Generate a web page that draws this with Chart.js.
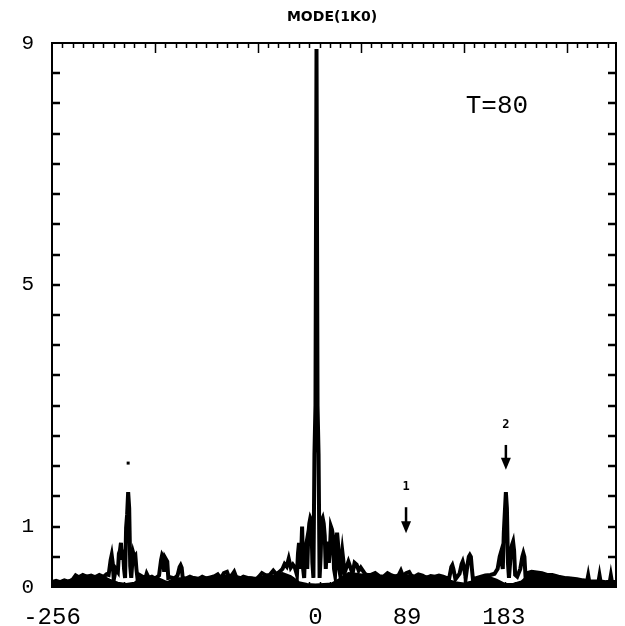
<!DOCTYPE html>
<html>
<head>
<meta charset="utf-8">
<script src="https://cdn.jsdelivr.net/npm/chart.js@4"></script>
<style>
  html, body { margin: 0; background: #fff; }
</style>
</head>
<body>
<canvas id="spec" width="625" height="626"></canvas>
<script>
// spectrum outline (x = mode index, y = amplitude)
const specX = [
  -256,-252,-248,-244,-240,-236,-233,-230,-226,-222,-218,-214,-210,-206,-203,
  -201,-199,-198,-197,-196,-194,-192,-191,-190,-189,-188,-187,-186,-185,-184,-183,-182,-181,-180,-179,-178,-177,-176,-175,-174,-173,-171,-168,-165,-164,-162,-159,-156,
  -152,-150,-149,-148,-147,-146,-145,-144,-143,-141,-137,-134,-132,-131,-130,-129,-126,
  -122,-118,-114,-110,-106,-102,-98,-95,-92,-89,-86,-84,-81,-79,-77,-73,-70,-66,-62,-58,-55,-52,-49,-45,-41,-38,-35,
  -32,-30,-28,-26,-24,-22,-20,-18,-17,-16,-15,-14,-13,-12,-11,-10,-9,-8,-7,-6,-5,-4,-3,-2,-1,0,1,2,3,4,5,6,7,8,9,10,
  11,12,13,14,15,16,17,18,19,20,21,22,23,24,25,26,27,28,30,32,34,36,38,40,42,44,46,48,50,
  54,58,62,66,70,74,78,81,83,85,88,91,93,96,100,104,108,112,116,120,124,127,
  130,132,133,134,136,140,142,143,144,146,148,149,150,151,152,153,157,161,165,170,174,177,179,180,181,182,183,184,185,186,187,188,190,191,192,193,194,196,199,201,202,203,204,206,
  210,215,220,225,230,236,242,248,254,260,264,265,266,270,275,276,277,282,286,287,288,292
];
const specY = [
  0.08,0.1,0.08,0.11,0.09,0.12,0.19,0.16,0.2,0.17,0.19,0.16,0.2,0.17,0.21,
  0.2,0.45,0.53,0.4,0.12,0.3,0.25,0.55,0.6,0.73,0.45,0.62,0.3,0.15,0.98,1.2,1.57,1.3,0.35,0.15,0.4,0.56,0.5,0.52,0.3,0.15,0.2,0.17,0.16,0.22,0.15,0.17,0.14,
  0.19,0.45,0.53,0.5,0.25,0.48,0.45,0.42,0.15,0.16,0.14,0.19,0.33,0.36,0.32,0.15,0.14,
  0.17,0.14,0.13,0.17,0.14,0.16,0.18,0.21,0.14,0.23,0.25,0.16,0.2,0.25,0.16,0.14,0.17,0.15,0.14,0.12,0.17,0.23,0.2,0.19,0.27,0.21,0.25,
  0.3,0.38,0.34,0.47,0.32,0.37,0.32,0.2,0.55,0.73,0.3,0.5,1.0,0.3,0.15,0.6,0.7,0.3,0.85,1.05,1.14,1.1,0.4,0.15,2.2,3.0,8.9,3.0,2.2,0.15,0.5,1.1,1.14,1.05,0.85,0.3,
  0.6,0.75,0.4,0.6,1.0,0.95,0.85,0.3,0.2,0.6,0.9,0.7,0.3,0.2,0.45,0.6,0.45,0.22,0.32,0.42,0.32,0.22,0.4,0.37,0.27,0.32,0.27,0.22,0.2,
  0.2,0.23,0.18,0.17,0.23,0.19,0.17,0.2,0.27,0.18,0.23,0.25,0.19,0.17,0.21,0.19,0.15,0.18,0.17,0.19,0.17,0.15,
  0.15,0.33,0.36,0.3,0.13,0.22,0.38,0.42,0.35,0.15,0.4,0.5,0.53,0.5,0.3,0.13,0.15,0.17,0.19,0.2,0.22,0.3,0.5,0.56,0.4,0.3,0.9,1.24,1.57,1.3,0.4,0.15,0.6,0.7,0.75,0.6,0.2,0.17,0.3,0.5,0.56,0.5,0.2,0.23,
  0.25,0.24,0.23,0.2,0.2,0.17,0.15,0.14,0.13,0.11,0.1,0.19,0.09,0.09,0.09,0.19,0.09,0.08,0.09,0.19,0.09,0.08
];

// dense black noise floor under the outline
const floorX = [
  -256,-248,-240,-232,-224,-216,-208,-200,-192,-184,-176,-168,-160,-152,-144,-136,-128,-120,-112,-104,-96,-88,-80,-72,-64,-56,-48,-40,-32,-24,-16,-8,
  0,8,16,24,32,40,48,56,64,72,80,88,96,104,112,120,128,136,144,152,160,168,176,184,192,200,208,216,224,232,240,248,256,264,272,280,288,292
];
const floorY = [
  0.08,0.09,0.1,0.17,0.19,0.18,0.19,0.12,0.07,0.05,0.07,0.17,0.16,0.14,0.08,0.15,0.14,0.17,0.15,0.16,0.18,0.19,0.19,0.16,0.16,0.15,0.19,0.2,0.23,0.18,0.08,0.05,
  0.04,0.05,0.06,0.14,0.23,0.22,0.2,0.19,0.17,0.19,0.19,0.2,0.17,0.18,0.17,0.17,0.12,0.08,0.06,0.09,0.15,0.17,0.12,0.05,0.05,0.09,0.21,0.22,0.2,0.19,0.16,0.15,0.12,0.1,0.09,0.08,0.08,0.08
];

const xTickValues = [-256, 0, 89, 183];
const yTickValues = [0, 1, 5, 9];

// arrows marking modes 1 and 2
const arrowX = [88, 185];
const arrowText = ['1', '2'];
const arrowFrom = [1.32, 2.35];
const arrowTo = [0.89, 1.94];

const monoFont = "'Liberation Mono', 'DejaVu Sans Mono', monospace";

const frameAndNotes = {
  id: 'frameAndNotes',
  afterDraw(chart) {
    const { ctx, chartArea: a, scales: { x, y } } = chart;
    ctx.save();
    ctx.strokeStyle = '#000';
    ctx.fillStyle = '#000';

    // box
    ctx.lineWidth = 2;
    ctx.strokeRect(a.left, a.top, a.right - a.left, a.bottom - a.top);

    // inward ticks left/right every 0.5
    ctx.lineWidth = 2.5;
    ctx.beginPath();
    for (let v = 0.5; v < 9; v += 0.5) {
      const py = Math.round(y.getPixelForValue(v));
      ctx.moveTo(a.left, py); ctx.lineTo(a.left + 8, py);
      ctx.moveTo(a.right, py); ctx.lineTo(a.right - 8, py);
    }
    ctx.stroke();

    // top/bottom ticks every 10 modes, long every 100
    ctx.lineWidth = 1.5;
    ctx.beginPath();
    for (let k = 10; k <= 540; k += 10) {
      const px = Math.round(x.getPixelForValue(k - 256)) + 0.5;
      const len = k % 100 === 0 ? 10 : 5;
      ctx.moveTo(px, a.top); ctx.lineTo(px, a.top + len);
      ctx.moveTo(px, a.bottom); ctx.lineTo(px, a.bottom - len);
    }
    ctx.stroke();

    // title
    ctx.font = "bold 14px 'DejaVu Sans', sans-serif";
    ctx.textAlign = 'center';
    ctx.textBaseline = 'middle';
    ctx.fillText('MODE(1K0)', 332, 17);

    // T=80
    ctx.font = '26px ' + monoFont;
    ctx.textAlign = 'left';
    ctx.fillText('T=80', x.getPixelForValue(146), y.getPixelForValue(7.96));

    // arrows
    ctx.lineWidth = 2.5;
    arrowX.forEach((v, i) => {
      const px = x.getPixelForValue(v);
      const y0 = y.getPixelForValue(arrowFrom[i]);
      const y1 = y.getPixelForValue(arrowTo[i]);
      ctx.beginPath();
      ctx.moveTo(px, y0); ctx.lineTo(px, y1 - 8);
      ctx.stroke();
      ctx.beginPath();
      ctx.moveTo(px - 5, y1 - 12); ctx.lineTo(px + 5, y1 - 12); ctx.lineTo(px, y1);
      ctx.closePath();
      ctx.fill();
      ctx.font = "bold 12px 'DejaVu Sans Mono', monospace";
      ctx.textAlign = 'center';
      ctx.fillText(arrowText[i], px, y0 - 20);
    });

    // stray dot above the left peak
    ctx.fillRect(x.getPixelForValue(-182) - 1.5, y.getPixelForValue(2.05) - 1.5, 3, 3);
    ctx.restore();
  }
};

new Chart(document.getElementById('spec'), {
  type: 'line',
  data: {
    datasets: [
      {
        data: floorX.map((v, i) => ({ x: v, y: floorY[i] })),
        borderColor: '#000',
        backgroundColor: '#000',
        borderWidth: 2,
        fill: 'origin',
        pointRadius: 0,
        tension: 0
      },
      {
        data: specX.map((v, i) => ({ x: v, y: specY[i] })),
        borderColor: '#000',
        borderWidth: 4,
        borderJoinStyle: 'miter',
        fill: false,
        pointRadius: 0,
        tension: 0
      }
    ]
  },
  options: {
    responsive: false,
    animation: false,
    layout: { padding: { left: 0, right: 9, top: 0, bottom: 0 } },
    plugins: { legend: { display: false }, tooltip: { enabled: false } },
    scales: {
      x: {
        type: 'linear',
        position: 'bottom',
        min: -256,
        max: 292,
        grid: { display: false },
        border: { display: false },
        afterBuildTicks: s => { s.ticks = xTickValues.map(v => ({ value: v })); },
        afterFit: s => { s.height = 39; },
        ticks: {
          autoSkip: false,
          maxRotation: 0,
          padding: 8,
          color: '#000',
          font: { family: monoFont, size: 24 },
          callback: v => String(v)
        }
      },
      y: {
        min: 0,
        max: 9,
        grid: { display: false },
        border: { display: false },
        afterBuildTicks: s => { s.ticks = yTickValues.map(v => ({ value: v })); },
        afterFit: s => { s.width = 52; },
        ticks: {
          padding: 10,
          color: '#000',
          font: { family: monoFont, size: 21 },
          callback: v => String(v)
        }
      },
      top: {
        type: 'linear',
        position: 'top',
        display: true,
        grid: { display: false },
        border: { display: false },
        ticks: { display: false },
        afterFit: s => { s.height = 43; }
      }
    }
  },
  plugins: [frameAndNotes]
});
</script>
</body>
</html>
